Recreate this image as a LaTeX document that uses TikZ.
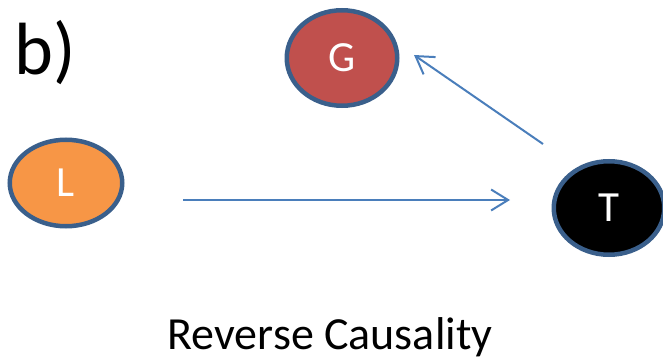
\documentclass[tikz,border=0pt]{standalone}
\usepackage{fontspec}
\setmainfont{Carlito}
\usetikzlibrary{shapes.geometric,arrows.meta}
\definecolor{rim}{HTML}{3A5F8B}
\definecolor{gfill}{HTML}{C0504D}
\definecolor{lfill}{HTML}{F79646}
\definecolor{arrowblue}{HTML}{4A7EBB}
\tikzset{
  var/.style={ellipse, draw=rim, line width=4.5pt, text=white, inner sep=0pt,
    font=\fontsize{43}{50}\selectfont},
  link/.style={draw=arrowblue, line width=2pt,
    -{Straight Barb[length=17pt,width=21pt,line width=2pt]}}
}
\begin{document}
\begin{tikzpicture}[x=1pt,y=-1pt]
\useasboundingbox (0,0) rectangle (663,358);
\node[anchor=base west, inner sep=0pt, font=\fontsize{74}{80}\selectfont] (lbl) at (14,75) {b)};
\node[var, fill=gfill, minimum width=110.5pt, minimum height=95.5pt] (G) at (342,58) {G};
\node[var, fill=lfill, minimum width=112.5pt, minimum height=86.5pt] (L) at (66,183) {L};
\node[var, fill=black, minimum width=110.5pt, minimum height=93.5pt] (T) at (609,208) {T};
\coordinate (a1) at (183,200);
\coordinate (a2) at (510,200);
\coordinate (b1) at (543,144);
\coordinate (b2) at (414,55);
\draw[link] (a1) -- (a2);
\draw[link] (b1) -- (b2);
\node[anchor=base, inner sep=0pt, font=\fontsize{46}{52}\selectfont] (cap) at (330,349) {Reverse Causality};
\end{tikzpicture}
\end{document}
